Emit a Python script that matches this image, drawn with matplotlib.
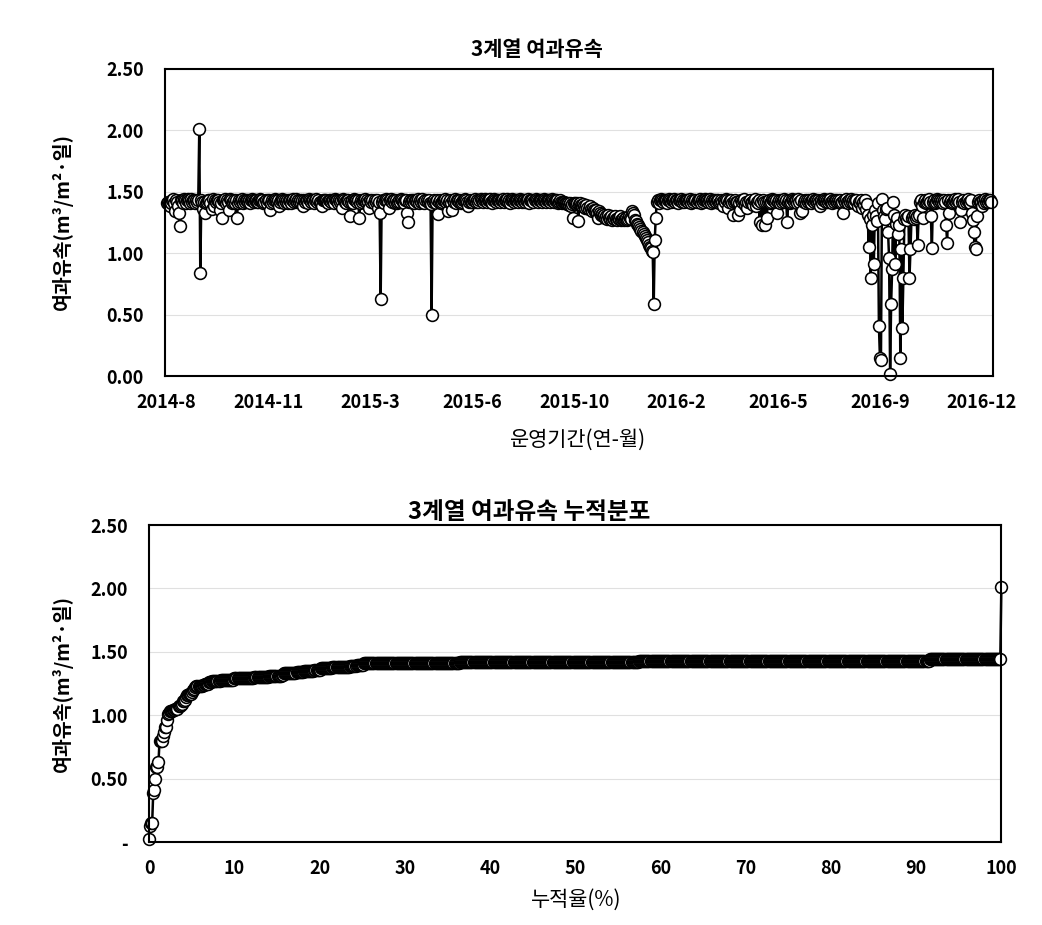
import matplotlib
matplotlib.use("Agg")
import matplotlib.pyplot as plt
import numpy as np

plt.rcParams['font.family'] = ['Noto Sans CJK KR', 'DejaVu Sans']

# daily filtration flux, units of 0.01 m3/m2/day, one list per 100 operating days
seg_2014_08 = [141, 142, 141, 138, 141, 143, 144, 141, 134, 143,
               142, 138, 133, 122, 143, 143, 141, 144, 143, 141,
               143, 144, 143, 141, 144, 142, 143, 143, 141, 143,
               142, 143, 201, 84, 143, 142, 136, 142, 133, 141,
               142, 143, 143, 141, 136, 144, 138, 143, 142, 143,
               143, 142, 135, 141, 129, 143, 143, 144, 141, 143,
               142, 135, 144, 143, 141, 142, 143, 141, 143, 129,
               141, 143, 142, 143, 144, 141, 143, 142, 143, 143,
               142, 143, 141, 143, 144, 143, 142, 143, 143, 142,
               142, 143, 144, 143, 143, 141, 142, 143, 141, 143]
seg_2014_11 = [143, 135, 141, 143, 142, 143, 144, 143, 142, 143,
               138, 142, 143, 144, 143, 141, 143, 142, 143, 141,
               143, 143, 141, 143, 144, 142, 143, 144, 142, 143,
               142, 143, 141, 143, 138, 143, 142, 143, 143, 141,
               144, 143, 142, 143, 143, 141, 143, 144, 142, 143,
               142, 141, 138, 143, 143, 143, 143, 142, 141, 143,
               143, 142, 143, 143, 141, 144, 143, 143, 141, 143,
               142, 143, 137, 144, 143, 142, 141, 143, 143, 142,
               130, 142, 143, 141, 144, 143, 143, 142, 143, 129,
               141, 143, 142, 143, 143, 144, 142, 143, 142, 137]
seg_2015_03 = [143, 142, 143, 141, 143, 142, 143, 137, 142, 133,
               63, 142, 143, 141, 143, 144, 143, 142, 137, 143,
               144, 142, 143, 143, 141, 143, 141, 142, 143, 142,
               144, 143, 142, 141, 143, 143, 133, 125, 142, 143,
               142, 143, 143, 141, 143, 143, 142, 144, 141, 143,
               142, 144, 142, 141, 143, 143, 142, 143, 141, 140,
               50, 142, 143, 142, 141, 143, 132, 142, 143, 141,
               142, 143, 143, 144, 142, 143, 134, 142, 143, 141,
               135, 143, 142, 144, 141, 143, 143, 142, 143, 141,
               142, 143, 143, 144, 143, 142, 138, 142, 143, 142]
seg_2015_06 = [142, 143, 143, 144, 142, 143, 142, 143, 144, 143,
               142, 143, 144, 143, 142, 143, 143, 144, 142, 141,
               143, 144, 143, 142, 143, 143, 143, 142, 143, 143,
               144, 142, 143, 143, 144, 142, 143, 141, 143, 144,
               143, 142, 143, 143, 143, 142, 143, 144, 143, 142,
               143, 143, 142, 143, 143, 144, 141, 143, 143, 143,
               142, 143, 144, 143, 142, 143, 143, 143, 142, 143,
               144, 143, 142, 143, 143, 143, 142, 143, 144, 143,
               142, 143, 143, 143, 141, 142, 143, 142, 141, 142,
               142, 141, 141, 140, 141, 139, 141, 138, 140, 129]
seg_2015_10 = [141, 141, 140, 141, 126, 140, 141, 139, 138, 140,
               138, 137, 139, 137, 136, 138, 136, 134, 137, 135,
               134, 135, 133, 129, 134, 133, 131, 132, 130, 131,
               129, 130, 128, 131, 129, 128, 130, 127, 129, 128,
               130, 128, 127, 129, 128, 130, 127, 128, 129, 127,
               128, 129, 127, 128, 130, 129, 128, 134, 133, 131,
               127, 126, 124, 123, 121, 120, 118, 117, 116, 114,
               112, 111, 109, 107, 105, 104, 102, 101, 59, 111,
               129, 142, 143, 141, 143, 144, 143, 142, 143, 143,
               143, 141, 143, 144, 143, 142, 143, 143, 144, 142]
seg_2016_02 = [143, 143, 141, 143, 143, 144, 142, 143, 142, 143,
               143, 143, 142, 143, 144, 141, 143, 142, 143, 143,
               142, 143, 143, 144, 141, 143, 142, 143, 144, 143,
               143, 142, 143, 144, 141, 143, 142, 143, 143, 142,
               143, 143, 141, 142, 143, 142, 138, 143, 142, 144,
               143, 137, 142, 143, 143, 141, 131, 142, 143, 142,
               142, 131, 141, 135, 143, 142, 143, 144, 139, 142,
               137, 142, 143, 141, 142, 139, 143, 144, 138, 142,
               141, 143, 125, 142, 123, 143, 142, 123, 142, 129,
               142, 143, 141, 142, 144, 143, 143, 142, 143, 133]
seg_2016_05 = [142, 143, 141, 143, 142, 143, 144, 142, 143, 125,
               142, 143, 141, 142, 144, 143, 142, 143, 143, 141,
               144, 142, 133, 143, 134, 142, 143, 141, 143, 142,
               143, 142, 141, 143, 144, 142, 143, 143, 142, 143,
               142, 138, 143, 141, 143, 144, 143, 142, 143, 142,
               143, 144, 142, 141, 143, 142, 143, 143, 142, 143,
               142, 143, 141, 142, 133, 143, 142, 144, 142, 141,
               143, 142, 144, 142, 143, 141, 143, 143, 138, 142,
               141, 143, 137, 142, 139, 143, 136, 140, 131, 105,
               128, 80, 123, 131, 91, 135, 130, 126, 141, 41]
seg_2016_09 = [15, 13, 144, 135, 130, 128, 136, 137, 117, 96,
               2, 59, 87, 142, 131, 91, 124, 129, 116, 123,
               15, 103, 39, 80, 128, 131, 129, 127, 130, 80,
               103, 129, 130, 128, 131, 129, 130, 107, 131, 142,
               143, 138, 129, 142, 143, 141, 142, 143, 144, 142,
               130, 104, 142, 143, 141, 142, 144, 143, 142, 143,
               142, 143, 141, 143, 142, 123, 108, 143, 133, 142,
               143, 141, 142, 143, 144, 142, 143, 144, 142, 125,
               135, 142, 143, 141, 142, 143, 144, 142, 141, 143,
               133, 127, 117, 105, 103, 130, 142, 143, 142, 142]
seg_2016_12 = [138, 143, 141, 144, 142, 143, 142, 143, 143, 142]

date_labels = ['2014-8', '2014-11', '2015-3', '2015-6', '2015-10',
               '2016-2', '2016-5', '2016-9', '2016-12']
flux_ticks = [0.0, 0.5, 1.0, 1.5, 2.0, 2.5]
top_ytick_labels = ['0.00', '0.50', '1.00', '1.50', '2.00', '2.50']
bottom_ytick_labels = ['-', '0.50', '1.00', '1.50', '2.00', '2.50']
pct_ticks = [0, 10, 20, 30, 40, 50, 60, 70, 80, 90, 100]

flux = np.array(seg_2014_08 + seg_2014_11 + seg_2015_03 + seg_2015_06 + seg_2015_10
                + seg_2016_02 + seg_2016_05 + seg_2016_09 + seg_2016_12) / 100.0
days = np.arange(len(flux))

# cumulative distribution of the same series
flux_sorted = np.sort(flux)
cum_pct = 100.0 * np.arange(len(flux)) / (len(flux) - 1)

ylab = '여과유속(m³/m²·일)'
style = dict(color='black', lw=1.8, marker='o', ms=8.5, mfc='white',
             mec='black', mew=1.15, clip_on=False)

fig = plt.figure(figsize=(10.42, 9.25), dpi=100)

# ---- top: time series
ax1 = fig.add_axes([0.158, 0.5935, 0.795, 0.332])
ax1.plot(days, flux, **style)
ax1.set_xlim(-2, len(flux) + 1)
ax1.set_ylim(0, 2.5)
ax1.set_yticks(flux_ticks)
ax1.set_yticklabels(top_ytick_labels)
ax1.set_xticks(np.arange(0, 100 * len(date_labels), 100))
ax1.set_xticklabels(date_labels)
fig.text(537 / 1042, 1 - 50 / 925, '3계열 여과유속', ha='center', va='center',
         fontsize=15, fontweight='bold')
fig.text(578 / 1042, 1 - 440 / 925, '운영기간(연-월)', ha='center', va='center', fontsize=15)
fig.text(62 / 1042, 1 - 222 / 925, ylab, ha='center', va='center', rotation=90,
         fontsize=14, fontweight='bold')

# ---- bottom: cumulative distribution
ax2 = fig.add_axes([0.143, 0.0897, 0.818, 0.3427])
ax2.plot(cum_pct, flux_sorted, **style)
ax2.set_xlim(0, 100)
ax2.set_ylim(0, 2.5)
ax2.set_yticks(flux_ticks)
ax2.set_yticklabels(bottom_ytick_labels)
ax2.set_xticks(pct_ticks)
fig.text(529 / 1042, 1 - 512 / 925, '3계열 여과유속 누적분포', ha='center', va='center',
         fontsize=17, fontweight='bold')
fig.text(576 / 1042, 1 - 900 / 925, '누적율(%)', ha='center', va='center', fontsize=15)
fig.text(62 / 1042, 1 - 684 / 925, ylab, ha='center', va='center', rotation=90,
         fontsize=14, fontweight='bold')

for ax in (ax1, ax2):
    ax.grid(axis='y', color='#e0e0e0', lw=0.8)
    ax.set_axisbelow(True)
    ax.tick_params(length=0, labelsize=13)
    ax.tick_params(axis='x', pad=12)
    ax.tick_params(axis='y', pad=15)
    for lab in ax.get_xticklabels() + ax.get_yticklabels():
        lab.set_fontweight('bold')
    for s in ax.spines.values():
        s.set_linewidth(1.5)
        s.set_color('black')

fig.savefig('out.png', dpi=100)
